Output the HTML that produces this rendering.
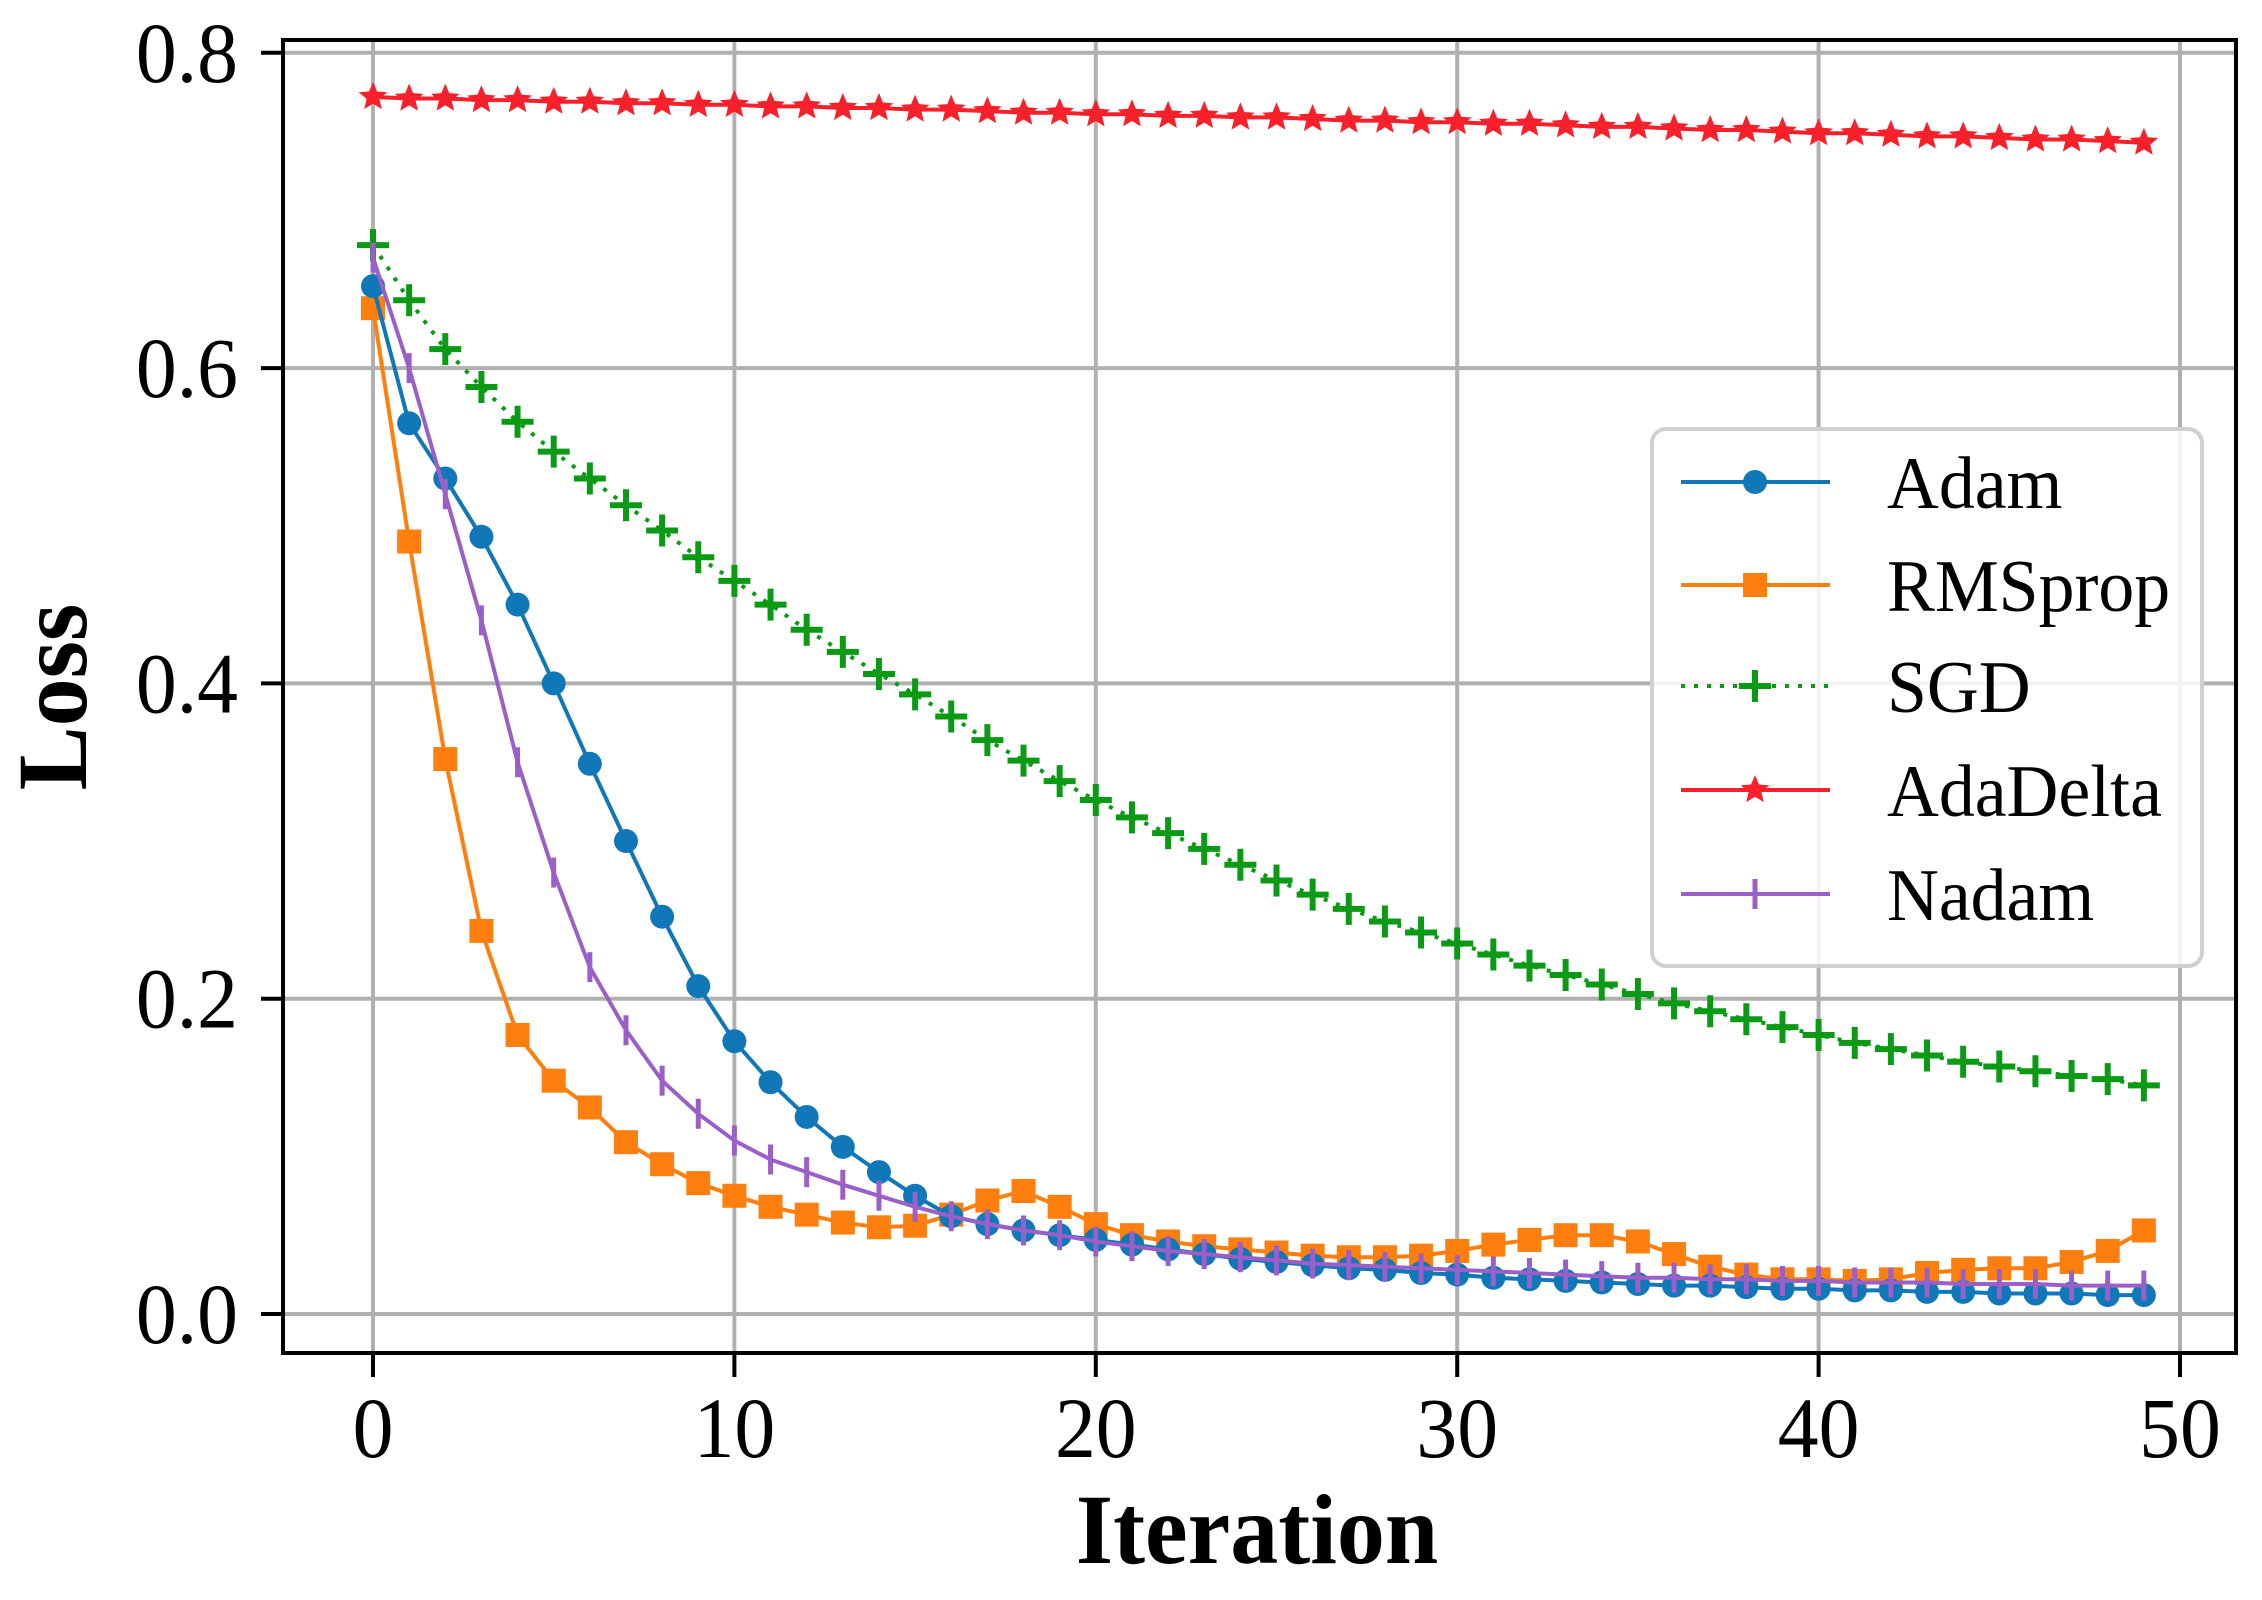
<!DOCTYPE html>
<html><head><meta charset="utf-8"><style>
html,body{margin:0;padding:0;background:#fff;}
svg{display:block;font-family:"Liberation Serif",serif;}
</style></head><body>
<svg id="chart" width="2262" height="1600" viewBox="0 0 2262 1600" xmlns="http://www.w3.org/2000/svg">
<rect x="0" y="0" width="2262" height="1600" fill="#fff"/>
<g id="grid"></g>
<g id="series"></g>
<rect x="283" y="40" width="1953" height="1313" fill="none" stroke="#000" stroke-width="4"/>
<g id="ticks"></g>
<g transform="translate(1257,1563) scale(0.96,1)"><text x="0" y="0" text-anchor="middle" font-size="100" font-weight="bold">Iteration</text></g>
<g transform="translate(86,697) rotate(-90) scale(0.96,1)"><text x="0" y="0" text-anchor="middle" font-size="100" font-weight="bold">Loss</text></g>
<g id="legend"></g>
</svg>
<script>
const xTicks=[0,10,20,30,40,50];
const yTicks=[0.0,0.2,0.4,0.6,0.8];
const yTickLabels=["0.0","0.2","0.4","0.6","0.8"];
const seriesNames=["Adam","RMSprop","SGD","AdaDelta","Nadam"];
const adam=[0.652,0.565,0.53,0.493,0.45,0.40,0.349,0.30,0.252,0.208,0.173,0.147,0.125,0.106,0.09,0.075,0.062,0.057,0.053,0.05,0.047,0.044,0.041,0.038,0.035,0.033,0.031,0.029,0.028,0.026,0.025,0.023,0.022,0.021,0.02,0.019,0.018,0.018,0.017,0.016,0.016,0.015,0.015,0.014,0.014,0.013,0.013,0.013,0.012,0.012];
const rmsprop=[0.638,0.49,0.352,0.243,0.177,0.148,0.131,0.109,0.095,0.083,0.075,0.068,0.063,0.058,0.055,0.056,0.063,0.072,0.078,0.068,0.057,0.05,0.046,0.043,0.041,0.039,0.037,0.036,0.036,0.037,0.04,0.044,0.047,0.050,0.050,0.046,0.038,0.030,0.025,0.022,0.022,0.021,0.022,0.026,0.028,0.029,0.029,0.033,0.040,0.053];
const sgd=[0.678,0.643,0.612,0.588,0.566,0.547,0.53,0.513,0.497,0.48,0.465,0.45,0.434,0.42,0.406,0.393,0.379,0.364,0.351,0.338,0.326,0.315,0.305,0.295,0.285,0.275,0.266,0.257,0.249,0.242,0.235,0.228,0.221,0.215,0.209,0.203,0.197,0.192,0.187,0.182,0.177,0.172,0.168,0.164,0.16,0.157,0.154,0.151,0.149,0.145];
const adadelta=[0.772,0.771,0.771,0.770,0.770,0.769,0.769,0.768,0.768,0.767,0.767,0.766,0.766,0.765,0.765,0.764,0.764,0.763,0.762,0.762,0.761,0.761,0.760,0.760,0.759,0.759,0.758,0.757,0.757,0.756,0.756,0.755,0.755,0.754,0.753,0.753,0.752,0.751,0.751,0.750,0.749,0.749,0.748,0.747,0.747,0.746,0.745,0.745,0.744,0.743];
const nadam=[0.67,0.6,0.52,0.44,0.35,0.28,0.22,0.18,0.148,0.127,0.11,0.098,0.09,0.082,0.075,0.068,0.062,0.057,0.053,0.05,0.046,0.043,0.04,0.038,0.036,0.034,0.032,0.031,0.03,0.029,0.028,0.027,0.026,0.025,0.024,0.023,0.023,0.022,0.022,0.021,0.021,0.02,0.02,0.02,0.019,0.019,0.019,0.018,0.018,0.018];

const NS="http://www.w3.org/2000/svg";
function X(v){return 373+v*36.14;}
function Y(v){return 1314-v*1576.5;}
function mk(tag,attrs,parent){const e=document.createElementNS(NS,tag);for(const k in attrs)e.setAttribute(k,attrs[k]);parent.appendChild(e);return e;}
const grid=document.getElementById('grid'),ticks=document.getElementById('ticks'),ser=document.getElementById('series'),leg=document.getElementById('legend');
xTicks.forEach(t=>{
  const g=mk('line',{x1:X(t),x2:X(t),y1:40,y2:1353,stroke:'#b0b0b0','stroke-width':4},grid);
  
  
  const tk=mk('line',{x1:X(t),x2:X(t),y1:1353,y2:1377,stroke:'#000','stroke-width':4},ticks);
  
  
  const gg=mk('g',{transform:`translate(${X(t)},1457) scale(0.95,1)`},ticks);
  const tx=mk('text',{x:0,y:0,'text-anchor':'middle','font-size':86},gg);
  
  
  tx.textContent=String(t);
});
yTicks.forEach((t,i)=>{
  const g=mk('line',{x1:283,x2:2236,y1:Y(t),y2:Y(t),stroke:'#b0b0b0','stroke-width':4},grid);
  
  
  const tk=mk('line',{x1:261,x2:283,y1:Y(t),y2:Y(t),stroke:'#000','stroke-width':4},ticks);
  
  
  const gg=mk('g',{transform:`translate(238,${Y(t)+29}) scale(0.95,1)`},ticks);
  const tx=mk('text',{x:0,y:0,'text-anchor':'end','font-size':86},gg);
  
  
  tx.textContent=yTickLabels[i];
});
function starPts(cx,cy,r){let p=[];for(let k=0;k<10;k++){const a=-Math.PI/2+k*Math.PI/5;const rr=k%2?r*0.45:r;p.push((cx+rr*Math.cos(a)).toFixed(1)+','+(cy+rr*Math.sin(a)).toFixed(1));}return p.join(' ');}
function marker(type,cx,cy,color,parent){
  let e;
  if(type==='circle'){e=mk('ellipse',{cx:cx,cy:cy,rx:12,ry:12,fill:color},parent);}
  else if(type==='square'){e=mk('rect',{x:cx-12,y:cy-12,width:24,height:24,fill:color},parent);}
  else if(type==='plus'){e=mk('path',{d:`M${cx-16},${cy}H${cx+16}M${cx},${cy-16}V${cy+16}`,stroke:color,'stroke-width':6,fill:'none'},parent);}
  else if(type==='star'){e=mk('polygon',{points:starPts(cx,cy,15),fill:color},parent);}
  else {e=mk('path',{d:`M${cx},${cy-15}V${cy+15}`,stroke:color,'stroke-width':5,fill:'none'},parent);}
  
  
}
const defs=[
 {data:adadelta,color:'#f8202a',m:'star',dash:null,name:'adadelta'},
 {data:sgd,color:'#0a9a14',m:'plus',dash:'4 9',name:'sgd'},
 {data:rmsprop,color:'#ff7f0e',m:'square',dash:null,name:'rmsprop'},
 {data:adam,color:'#1077b8',m:'circle',dash:null,name:'adam'},
 {data:nadam,color:'#9b5fc8',m:'tick',dash:null,name:'nadam'}
];
defs.forEach(d=>{
  const g=mk('g',{},ser);
  
  
  const pts=d.data.map((v,i)=>X(i).toFixed(1)+','+Y(v).toFixed(1)).join(' ');
  const a={points:pts,fill:'none',stroke:d.color,'stroke-width':4};
  if(d.dash)a['stroke-dasharray']=d.dash;
  const pl=mk('polyline',a,g);
  
  
  d.data.forEach((v,i)=>marker(d.m,X(i),Y(v),d.color,g));
});
const lb=mk('rect',{x:1652,y:429,width:550,height:537,rx:14,fill:'#fff','fill-opacity':0.85,stroke:'#d0d0d0','stroke-width':4},leg);


const legOrder=[
 {color:'#1077b8',m:'circle',dash:null},
 {color:'#ff7f0e',m:'square',dash:null},
 {color:'#0a9a14',m:'plus',dash:'4 9'},
 {color:'#f8202a',m:'star',dash:null},
 {color:'#9b5fc8',m:'tick',dash:null}
];
const legY=[482,585,686,790,894];
legOrder.forEach((d,i)=>{
  const g=mk('g',{},leg);
  
  
  const a={x1:1681,x2:1830,y1:legY[i],y2:legY[i],stroke:d.color,'stroke-width':4};
  if(d.dash)a['stroke-dasharray']=d.dash;
  mk('line',a,g);
  marker(d.m,1755,legY[i],d.color,g);
  const gg=mk('g',{transform:`translate(1887,${legY[i]+26}) scale(0.97,1)`},g);
  const t=mk('text',{x:0,y:0,'font-size':74},gg);
  
  
  t.textContent=seriesNames[i];
});
</script>
</body></html>
